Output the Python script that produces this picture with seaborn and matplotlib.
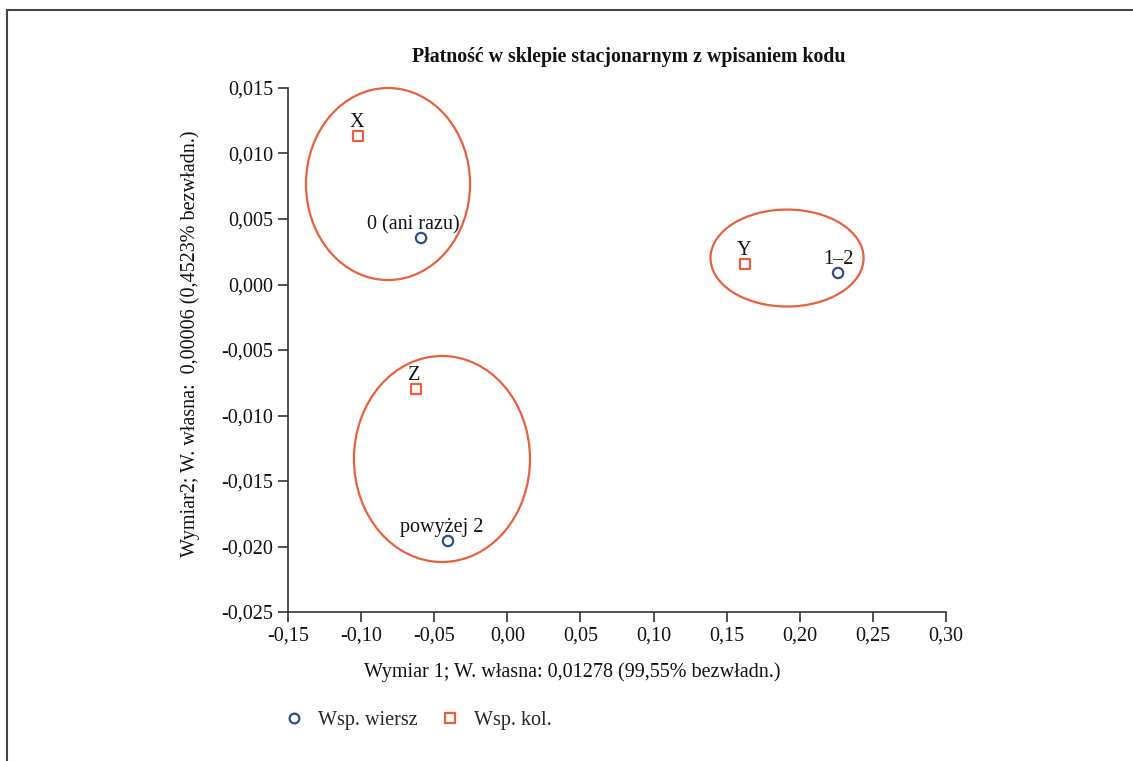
import matplotlib
matplotlib.use("Agg")
import matplotlib.pyplot as plt
import seaborn as sns
import pandas as pd
from matplotlib.patches import Ellipse
from matplotlib.lines import Line2D
from matplotlib.ticker import FuncFormatter

sns.set_theme(style="ticks")
plt.rcParams['font.family'] = ['Liberation Serif', 'DejaVu Serif']

row_labels = ["0 (ani razu)", "1\u20132", "powy\u017cej 2"]
row_x = [-0.059, 0.2262, -0.0406]
row_y = [0.00355, 0.00088, -0.01958]

col_labels = ["X", "Y", "Z"]
col_x = [-0.102, 0.1626, -0.0624]
col_y = [0.01134, 0.00157, -0.00798]

ell_cx = [-0.0816, 0.1913, -0.0447]
ell_cy = [0.00767, 0.00202, -0.01332]
ell_w = [0.1122, 0.1047, 0.1204]
ell_h = [0.01466, 0.0074, 0.01573]

title = "P\u0142atno\u015b\u0107 w sklepie stacjonarnym z wpisaniem kodu"
xlabel = "Wymiar 1; W. w\u0142asna: 0,01278 (99,55% bezw\u0142adn.)"
ylabel = "Wymiar2; W. w\u0142asna:  0,00006 (0,4523% bezw\u0142adn.)"
leg_row = "Wsp. wiersz"
leg_col = "Wsp. kol."

BLUE = "#2F4E8C"
ORANGE = "#E9603F"

fig = plt.figure(figsize=(11.33, 7.61), dpi=100)
ax = fig.add_axes([288/1133, 1-612/761, (946-288)/1133, (612-88)/761])

df_row = pd.DataFrame({"x": row_x, "y": row_y, "lab": row_labels})
df_col = pd.DataFrame({"x": col_x, "y": col_y, "lab": col_labels})

sns.scatterplot(data=df_row, x="x", y="y", marker="o", s=55, color=BLUE, ax=ax, zorder=3)
sns.scatterplot(data=df_col, x="x", y="y", marker="s", s=55, color=ORANGE, ax=ax, zorder=3)
c1, c2 = ax.collections[0], ax.collections[1]
c1.set_facecolor("none"); c1.set_edgecolor(BLUE); c1.set_linewidth(1.6)
c2.set_facecolor("none"); c2.set_edgecolor(ORANGE); c2.set_linewidth(1.6)

for lab, x, y, dx in zip(row_labels, row_x, row_y, [-0.005, 0.0, -0.004]):
    ax.text(x + dx, y + 0.0003, lab, ha="center", va="bottom", fontsize=14.5, color="#111111")
for lab, x, y in zip(col_labels, col_x, col_y):
    ax.text(x - 0.001, y + 0.0003, lab, ha="center", va="bottom", fontsize=14.5, color="#111111")

for cx, cy, w, h in zip(ell_cx, ell_cy, ell_w, ell_h):
    ax.add_patch(Ellipse((cx, cy), w, h, fill=False, edgecolor=ORANGE, linewidth=1.6, zorder=2, clip_on=False))

ax.set_xlim(-0.15, 0.30)
ax.set_ylim(-0.025, 0.015)
ax.set_xticks([-0.15 + 0.05*i for i in range(10)])
ax.set_yticks([-0.025 + 0.005*i for i in range(9)])
ax.xaxis.set_major_formatter(FuncFormatter(lambda v, p: f"{v:.2f}".replace(".", ",").replace("-0,00", "0,00")))
ax.yaxis.set_major_formatter(FuncFormatter(lambda v, p: f"{v:.3f}".replace(".", ",").replace("-0,000", "0,000")))
ax.tick_params(axis="both", labelsize=14.5, length=7, width=1.2, color="#333333", labelcolor="#111111", direction="out")
for s in ["top", "right"]:
    ax.spines[s].set_visible(False)
for s in ["left", "bottom"]:
    ax.spines[s].set_color("#333333")
    ax.spines[s].set_linewidth(1.2)
ax.set_xlabel("")
ax.set_ylabel("")

fig.text(629/1133, 1-57/761, title, ha="center", va="center", fontsize=14.3, fontweight="bold", color="#111111")
fig.text(572/1133, 1-672/761, xlabel, ha="center", va="center", fontsize=14.5, color="#111111")
fig.text(190/1133, 1-344/761, ylabel, ha="center", va="center", rotation=90, fontsize=14.5, color="#111111")

# legend
handles = [Line2D([], [], marker="o", linestyle="none", markerfacecolor="none", markeredgecolor=BLUE, markeredgewidth=1.6, markersize=7),
           Line2D([], [], marker="s", linestyle="none", markerfacecolor="none", markeredgecolor=ORANGE, markeredgewidth=1.6, markersize=7)]
fig.legend(handles, [leg_row, leg_col], loc="center left", bbox_to_anchor=(272/1133, 1-720/761), ncol=2,
           frameon=False, fontsize=14.5, handlelength=1.2, handletextpad=0.6, columnspacing=1.0, borderpad=0)

# outer frame
fig.add_artist(Line2D([7/1133, 1.0], [1-10/761, 1-10/761], transform=fig.transFigure, color="#444444", linewidth=1.5))
fig.add_artist(Line2D([7/1133, 7/1133], [1-10/761, 0.0], transform=fig.transFigure, color="#444444", linewidth=1.5))

fig.savefig("out.png", dpi=100)
